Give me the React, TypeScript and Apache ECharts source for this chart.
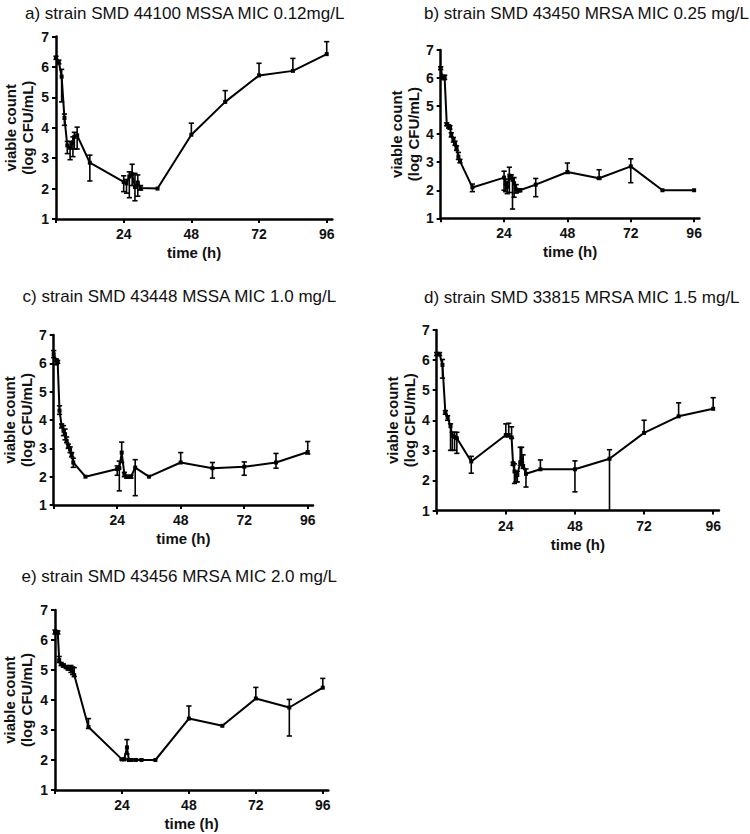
import React, { useEffect, useRef } from "react";
import * as echarts from "echarts";

// ---------- data ----------
const titles = [
  "a) strain SMD 44100 MSSA MIC 0.12mg/L",
  "b) strain SMD 43450 MRSA MIC 0.25 mg/L",
  "c) strain SMD 43448 MSSA MIC 1.0 mg/L",
  "d) strain SMD 33815 MRSA MIC 1.5 mg/L",
  "e) strain SMD 43456 MRSA MIC 2.0 mg/L",
];
const xTickValues = [24, 48, 72, 96];
const yTickValues = [1, 2, 3, 4, 5, 6, 7];
const xAxisTitle = "time (h)";
const yAxisTitle = "viable count\n(log CFU/mL)";

const aTime = [0, 1, 2, 3, 4, 5, 6, 6.5, 7.5, 12, 24, 25, 26, 27, 28, 29, 30, 36, 48, 60, 72, 84, 96];
const aMean = [6.3, 6.17, 5.68, 4.32, 3.42, 3.34, 3.52, 3.7, 3.75, 2.85, 2.22, 2.17, 2.4, 2.47, 2.05, 2.2, 2.02, 2.0, 3.77, 4.85, 5.72, 5.87, 6.42];
const aHigh = [6.35, 6.22, 5.92, 4.45, 3.55, 3.55, 3.7, 3.85, 4.02, 3.1, 2.42, 2.3, 2.55, 2.8, 2.5, 2.45, 2.1, 2.0, 4.15, 5.22, 6.12, 6.28, 6.83];
const aLow = [6.25, 6.1, 4.85, 4.08, 3.15, 2.95, 3.05, 3.3, 3.3, 2.25, 1.9, 1.85, 1.7, 2.1, 1.6, 1.75, 1.95, 2.0, 3.77, 4.85, 5.72, 5.87, 6.42];

const bTime = [0, 0.75, 1.5, 2.3, 3, 3.5, 4, 4.8, 5.4, 6, 6.7, 7.3, 12, 24, 24.6, 25.2, 26, 26.7, 27.2, 27.8, 28.6, 29.3, 30, 36, 48, 60, 72, 84, 96];
const bMean = [6.35, 6.0, 6.0, 4.35, 4.28, 4.24, 3.97, 3.8, 3.67, 3.5, 3.2, 3.04, 2.1, 2.45, 2.22, 2.12, 2.52, 2.47, 2.37, 2.25, 2.03, 2.0, 2.0, 2.2, 2.65, 2.43, 2.85, 2.0, 2.0];
const bHigh = [6.4, 6.1, 6.1, 4.4, 4.33, 4.3, 4.05, 3.88, 3.75, 3.58, 3.35, 3.1, 2.22, 2.68, 2.4, 2.3, 2.82, 2.55, 2.45, 2.45, 2.2, 2.05, 2.05, 2.42, 2.97, 2.73, 3.12, 2.0, 2.0];
const bLow = [6.3, 5.95, 5.95, 4.3, 4.22, 4.18, 3.9, 3.72, 3.6, 3.42, 3.1, 2.98, 1.95, 2.0, 1.95, 1.88, 1.92, 2.4, 1.33, 1.75, 1.9, 1.95, 1.95, 1.77, 2.6, 2.4, 2.27, 2.0, 2.0];

const cTime = [0, 1, 1.5, 2.2, 3, 3.7, 4.3, 4.9, 5.5, 6.2, 6.8, 7.4, 12, 24, 24.8, 25.7, 26.7, 27.6, 29.2, 30.8, 36, 48, 60, 72, 84, 96];
const cMean = [6.32, 6.1, 6.05, 4.33, 3.8, 3.62, 3.5, 3.26, 3.08, 2.96, 2.78, 2.5, 2.0, 2.27, 2.3, 2.85, 2.1, 2.0, 2.0, 2.32, 2.0, 2.5, 2.3, 2.35, 2.5, 2.87];
const cHigh = [6.45, 6.15, 6.1, 4.5, 3.86, 3.8, 3.68, 3.4, 3.15, 3.05, 2.85, 2.65, 2.0, 2.38, 2.55, 3.22, 2.15, 2.05, 2.05, 2.6, 2.0, 2.85, 2.5, 2.52, 2.82, 3.24];
const cLow = [6.2, 5.95, 6.0, 4.2, 3.72, 3.45, 3.3, 3.2, 3.0, 2.85, 2.7, 2.33, 2.0, 2.05, 1.5, 2.5, 2.0, 1.95, 1.95, 1.33, 2.0, 2.5, 1.95, 2.05, 2.3, 2.8];

const dTime = [0, 1, 2, 3, 3.8, 4.8, 5.4, 6.2, 7, 12, 24, 25, 26, 26.5, 27, 27.5, 28, 29, 29.5, 30, 31, 36, 48, 60, 72, 84, 96];
const dMean = [6.2, 6.2, 5.84, 4.27, 4.1, 3.8, 3.49, 3.45, 3.4, 2.63, 3.51, 3.51, 3.43, 2.57, 2.3, 2.13, 2.18, 2.6, 2.72, 2.48, 2.22, 2.37, 2.37, 2.72, 3.58, 4.13, 4.38];
const dHigh = [6.25, 6.25, 6.02, 4.32, 4.15, 3.88, 3.6, 3.6, 3.6, 2.8, 3.88, 3.9, 3.78, 2.6, 2.55, 2.3, 2.3, 3.1, 3.1, 2.85, 2.38, 2.68, 2.65, 3.02, 4.0, 4.58, 4.75];
const dLow = [6.15, 6.15, 5.4, 4.2, 4.0, 3.0, 3.0, 3.0, 2.9, 2.24, 3.45, 3.45, 3.4, 2.5, 1.9, 1.95, 1.95, 2.5, 2.6, 2.4, 1.78, 2.37, 1.62, 1.0, 3.58, 4.13, 4.38];

const eTime = [0, 1, 1.5, 2.2, 3, 4, 4.7, 5.7, 6.3, 6.9, 12, 24, 24.8, 25.8, 26.5, 27.5, 29, 31, 36, 48, 60, 72, 84, 96];
const eMean = [6.28, 6.26, 5.33, 5.2, 5.15, 5.1, 5.05, 5.03, 4.95, 4.83, 3.1, 2.02, 2.02, 2.42, 2.0, 2.0, 2.0, 2.0, 2.0, 3.38, 3.14, 4.05, 3.75, 4.41];
const eHigh = [6.33, 6.3, 5.45, 5.25, 5.2, 5.15, 5.1, 5.15, 5.1, 5.08, 3.38, 2.05, 2.05, 2.68, 2.02, 2.02, 2.02, 2.02, 2.0, 3.8, 3.14, 4.42, 4.02, 4.72];
const eLow = [6.2, 6.2, 5.25, 5.15, 5.1, 5.05, 5.0, 4.92, 4.85, 4.78, 3.05, 2.0, 2.0, 2.2, 2.0, 2.0, 2.0, 2.0, 2.0, 3.38, 3.14, 4.05, 2.8, 4.41];

const seriesData = [
  { t: aTime, m: aMean, hi: aHigh, lo: aLow },
  { t: bTime, m: bMean, hi: bHigh, lo: bLow },
  { t: cTime, m: cMean, hi: cHigh, lo: cLow },
  { t: dTime, m: dMean, hi: dHigh, lo: dLow },
  { t: eTime, m: eMean, hi: eHigh, lo: eLow },
];

// ---------- layout ----------
const X_MAX = 98;
const layout = [
  { left: 56, top: 36.5, height: 182.5, pxPerH: 2.82, titleLeft: 25, titleTop: 5, yGap: 20 },
  { left: 440.7, top: 50, height: 168.3, pxPerH: 2.64, titleLeft: 424, titleTop: 5, yGap: 13 },
  { left: 50, top: 335, height: 170, pxPerH: 2.684, titleLeft: 22.5, titleTop: 288, yGap: 17 },
  { left: 436.7, top: 330, height: 180.5, pxPerH: 2.88, titleLeft: 424, titleTop: 289, yGap: 8 },
  { left: 52.3, top: 610, height: 180, pxPerH: 2.817, titleLeft: 21.5, titleTop: 568, yGap: 20 },
];

const FONT = 'Arial, "Liberation Sans", Helvetica, sans-serif';

function buildOption() {
  const grid: any[] = [];
  const xAxis: any[] = [];
  const yAxis: any[] = [];
  const graphic: any[] = [];
  const series: any[] = [];
  layout.forEach((L, i) => {
    grid.push({ left: L.left, top: L.top, width: L.pxPerH * X_MAX, height: L.height, containLabel: false });
    graphic.push({
      type: "text",
      x: L.titleLeft,
      y: L.titleTop,
      silent: true,
      style: {
        text: titles[i],
        fill: "#111",
        font: `normal 17px ${FONT}`,
        textAlign: "left",
        textVerticalAlign: "top",
      },
    });
    xAxis.push({
      type: "value",
      gridIndex: i,
      min: 0,
      max: X_MAX,
      name: xAxisTitle,
      nameLocation: "middle",
      nameGap: 26,
      nameTextStyle: { fontFamily: FONT, fontSize: 15, fontWeight: "bold", color: "#111", verticalAlign: "top" },
      axisLine: { show: true, onZero: false, lineStyle: { color: "#000", width: 2.5 } },
      axisTick: { show: true, length: 4, lineStyle: { color: "#000", width: 2 }, customValues: [0, ...xTickValues] },
      axisLabel: {
        fontFamily: FONT,
        fontSize: 14,
        fontWeight: "bold",
        color: "#111",
        margin: 8,
        customValues: xTickValues,
      },
      splitLine: { show: false },
    });
    yAxis.push({
      type: "value",
      gridIndex: i,
      min: 1,
      max: 7,
      interval: 1,
      name: yAxisTitle,
      nameLocation: "middle",
      nameRotate: 90,
      nameGap: L.yGap,
      nameTextStyle: { fontFamily: FONT, fontSize: 15, fontWeight: "bold", color: "#111", lineHeight: 17 },
      axisLine: { show: true, onZero: false, lineStyle: { color: "#000", width: 2.5 } },
      axisTick: { show: true, length: 4, lineStyle: { color: "#000", width: 2 } },
      axisLabel: {
        fontFamily: FONT,
        fontSize: 14,
        fontWeight: "bold",
        color: "#111",
        margin: 7,
        customValues: yTickValues,
      },
      splitLine: { show: false },
    });
    const D = seriesData[i];
    series.push({
      type: "custom",
      xAxisIndex: i,
      yAxisIndex: i,
      clip: false,
      z: 3,
      data: D.t.map((x, k) => [x, D.m[k], D.lo[k], D.hi[k]]),
      encode: { x: 0, y: [1, 2, 3] },
      renderItem: (params: any, api: any) => {
        const x = api.value(0);
        const m = api.value(1);
        const lo = api.value(2);
        const hi = api.value(3);
        const pm = api.coord([x, m]);
        const children: any[] = [];
        const w = 2.6;
        const st = { stroke: "#000", lineWidth: 1.6 };
        if (hi - m > 0.001) {
          const ph = api.coord([x, hi]);
          children.push({ type: "line", shape: { x1: pm[0], y1: pm[1], x2: ph[0], y2: ph[1] }, style: st });
          children.push({ type: "line", shape: { x1: ph[0] - w, y1: ph[1], x2: ph[0] + w, y2: ph[1] }, style: st });
        }
        if (m - lo > 0.001) {
          const pl = api.coord([x, lo]);
          children.push({ type: "line", shape: { x1: pm[0], y1: pm[1], x2: pl[0], y2: pl[1] }, style: st });
          if (lo > 1.02) {
            children.push({ type: "line", shape: { x1: pl[0] - w, y1: pl[1], x2: pl[0] + w, y2: pl[1] }, style: st });
          }
        }
        return { type: "group", children };
      },
    });
    series.push({
      type: "line",
      xAxisIndex: i,
      yAxisIndex: i,
      data: D.t.map((x, k) => [x, D.m[k]]),
      symbol: "rect",
      symbolSize: 4,
      showSymbol: true,
      clip: false,
      z: 4,
      itemStyle: { color: "#000" },
      lineStyle: { color: "#000", width: 2 },
    });
  });
  return { animation: false, backgroundColor: "#fff", graphic, grid, xAxis, yAxis, series };
}

export default function App() {
  const ref = useRef<HTMLDivElement>(null);
  useEffect(() => {
    if (!ref.current) return;
    const chart = echarts.init(ref.current, undefined, { renderer: "svg" });
    chart.setOption(buildOption() as any);
    return () => chart.dispose();
  }, []);
  return (
    <div
      ref={ref}
      style={{ position: "absolute", left: 0, top: 0, width: 750, height: 834, background: "#fff" }}
    />
  );
}
